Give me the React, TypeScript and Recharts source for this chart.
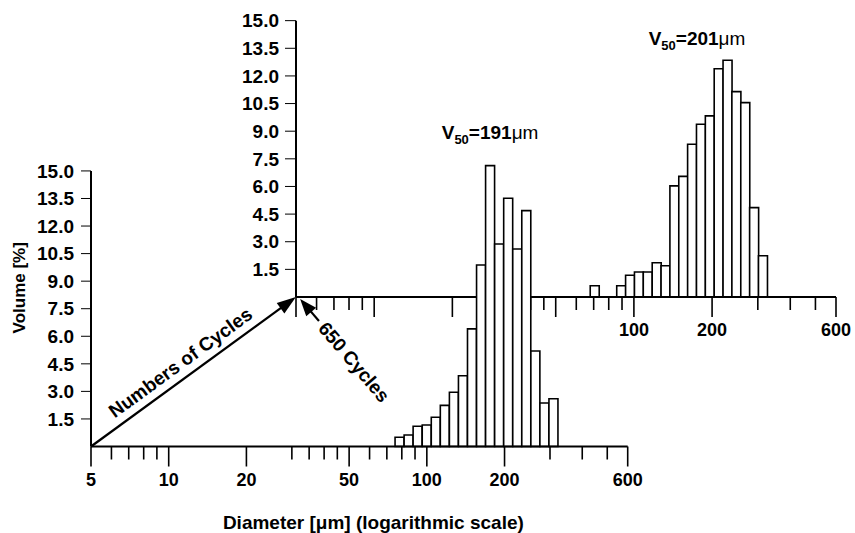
import { ComposedChart, Bar, XAxis, YAxis, ReferenceLine, ReferenceDot } from 'recharts';

const FONT = '"Liberation Sans", Arial, Helvetica, sans-serif';
const W = 855;
const H = 533;

// front histogram: after 650 cycles
const frontDiameters = [78.4, 85.0, 92.1, 99.9, 108.3, 117.4, 127.3, 138.0, 149.6, 162.2, 175.8, 190.6, 206.6, 224.0, 242.8, 263.3, 285.4, 309.4];
const frontVolumes = [0.5, 0.63, 1.1, 1.17, 1.59, 2.24, 2.95, 3.85, 6.4, 9.88, 15.29, 11.02, 13.51, 10.75, 12.84, 5.2, 2.37, 2.6];
const frontMedian = 191;

// back histogram: start
const backDiameters = [70.6, 89.3, 96.6, 104.5, 113.0, 122.3, 132.3, 143.1, 154.8, 167.4, 181.1, 195.9, 211.9, 229.2, 247.9, 268.2, 290.1, 313.8];
const backVolumes = [0.61, 0.61, 1.18, 1.36, 1.36, 1.86, 1.7, 6.03, 6.55, 8.29, 9.38, 9.83, 12.39, 12.85, 11.15, 10.55, 4.85, 2.24];
const backMedian = 201;

const diameterTicks = [5, 6, 7, 8, 9, 10, 20, 30, 35, 40, 45, 50, 60, 70, 80, 90, 100, 200, 300, 400, 500, 600];
const majorTicks = [5, 10, 20, 50, 100, 200, 600];
const frontLabelled = [5, 10, 20, 50, 100, 200, 600];
const backLabelled = [100, 200, 600];
const volumeTicks = [1.5, 3, 4.5, 6, 7.5, 9, 10.5, 12, 13.5, 15];

const frontData = frontDiameters.map((d, i) => ({ d, v: frontVolumes[i] }));
const backData = backDiameters.map((d, i) => ({ d, v: backVolumes[i] }));

const textStyle = { fill: '#000', fontSize: 19, fontWeight: 700, fontFamily: FONT };

const makeDiamTick = (labelled: number[]) => (props: any) => {
  const { x, y, payload } = props;
  const major = majorTicks.includes(payload.value);
  return (
    <g>
      <line x1={x} x2={x} y1={y} y2={y + (major ? 20 : 13)} stroke="#000" strokeWidth={1.6} />
      {labelled.includes(payload.value) && (
        <text x={x} y={y + 39} textAnchor="middle" {...textStyle} fontSize={18}>
          {payload.value}
        </text>
      )}
    </g>
  );
};

const v50Label = (value: number) => (p: any) => (
  <text x={p.cx} y={p.cy} textAnchor="middle" {...textStyle}>
    V<tspan fontSize={13} dy={5}>50</tspan>
    <tspan dy={-5}>={value}</tspan>
    <tspan fontWeight={400}>μm</tspan>
  </text>
);

const headPoints = (x: number, y: number, ux: number, uy: number, len: number, half: number) => {
  const bx = x - ux * len;
  const by = y - uy * len;
  return `${x},${y} ${bx + uy * half},${by - ux * half} ${bx - uy * half},${by + ux * half}`;
};

const cyclesAxisShape = (p: any) => {
  const { x1, y1, x2, y2 } = p;
  const dx = x2 - x1, dy = y2 - y1;
  const len = Math.hypot(dx, dy);
  const ux = dx / len, uy = dy / len;
  const ang = (Math.atan2(dy, dx) * 180) / Math.PI;
  const tx = x1 + dx * 0.48 + uy * 15;
  const ty = y1 + dy * 0.48 - ux * 15;
  return (
    <g>
      <line x1={x1} y1={y1} x2={x2 - ux * 15} y2={y2 - uy * 15} stroke="#000" strokeWidth={2.2} />
      <polygon points={headPoints(x2, y2, ux, uy, 19, 6.5)} fill="#000" />
      <text x={tx} y={ty} transform={`rotate(${ang} ${tx} ${ty})`} textAnchor="middle" dominantBaseline="central" {...textStyle}>
        Numbers of Cycles
      </text>
    </g>
  );
};

const cycles650Shape = (p: any) => {
  const { x1, y1, x2, y2 } = p; // tail -> head
  const dx = x2 - x1, dy = y2 - y1;
  const len = Math.hypot(dx, dy);
  const ux = dx / len, uy = dy / len;
  const ang = (Math.atan2(-uy, -ux) * 180) / Math.PI;
  const tx = x2 - ux * 83;
  const ty = y2 - uy * 83;
  return (
    <g>
      <line x1={x1} y1={y1} x2={x2 - ux * 14} y2={y2 - uy * 14} stroke="#000" strokeWidth={2.2} />
      <polygon points={headPoints(x2, y2, ux, uy, 17, 6.5)} fill="#000" />
      <text x={tx} y={ty} transform={`rotate(${ang} ${tx} ${ty})`} textAnchor="middle" dominantBaseline="central" {...textStyle}>
        650 Cycles
      </text>
    </g>
  );
};

const volumeLabel = (p: any) => {
  const vb = p.viewBox;
  const cx = vb.x - 22;
  const cy = vb.y + vb.height / 2 + 2;
  return (
    <text x={cx} y={cy} transform={`rotate(-90 ${cx} ${cy})`} textAnchor="middle" dominantBaseline="central" {...textStyle} fontSize={17}>
      Volume [%]
    </text>
  );
};

const diameterLabel = (p: any) => {
  const vb = p.viewBox;
  return (
    <text x={vb.x + vb.width / 2 + 14} y={vb.y + 82} textAnchor="middle" {...textStyle}>
      Diameter [μm] (logarithmic scale)
    </text>
  );
};

const layer: React.CSSProperties = { position: 'absolute', left: 0, top: 0 };

export default function App() {
  return (
    <div style={{ position: 'absolute', left: 0, top: 0, width: W, height: H, background: '#fff' }}>
      <div style={layer}>
        <ComposedChart
          width={W}
          height={H}
          data={backData}
          barCategoryGap={0}
          barGap={0}
          margin={{ top: 9.6, right: 19, bottom: 206, left: 246 }}
        >
          <XAxis
            dataKey="d"
            type="number"
            scale="log"
            domain={[5, 600]}
            ticks={diameterTicks}
            interval={0}
            height={30}
            tickSize={0}
            tickMargin={0}
            tickLine={false}
            axisLine={{ stroke: '#000', strokeWidth: 2 }}
            tick={makeDiamTick(backLabelled)}
          />
          <YAxis
            type="number"
            domain={[0, 15.6]}
            ticks={volumeTicks}
            interval={0}
            width={50}
            tickSize={11}
            tickMargin={6}
            stroke="#000"
            axisLine={false}
            tickFormatter={(v: number) => v.toFixed(1)}
            tick={textStyle}
          />
          <ReferenceLine segment={[{ x: 5, y: 0 }, { x: 5, y: 15 }]} stroke="#000" strokeWidth={2} />
          <Bar dataKey="v" fill="#fff" stroke="#000" strokeWidth={1.6} isAnimationActive={false} />
          <ReferenceDot x={175} y={13.68} r={0} ifOverflow="visible" shape={v50Label(backMedian)} />
        </ComposedChart>
      </div>
      <div style={layer}>
        <ComposedChart
          width={W}
          height={H}
          data={frontData}
          barCategoryGap={0}
          barGap={0}
          margin={{ top: 125, right: 227.3, bottom: 56.5, left: 41 }}
        >
          <XAxis
            dataKey="d"
            type="number"
            scale="log"
            domain={[5, 600]}
            ticks={diameterTicks}
            interval={0}
            height={30}
            tickSize={0}
            tickMargin={0}
            tickLine={false}
            axisLine={{ stroke: '#000', strokeWidth: 2 }}
            tick={makeDiamTick(frontLabelled)}
            label={{ content: diameterLabel }}
          />
          <YAxis
            type="number"
            domain={[0, 17.5]}
            ticks={volumeTicks}
            interval={0}
            width={50}
            tickSize={10}
            tickMargin={7}
            stroke="#000"
            axisLine={false}
            tickFormatter={(v: number) => v.toFixed(1)}
            tick={textStyle}
            label={{ content: volumeLabel }}
          />
          <ReferenceLine segment={[{ x: 5, y: 0 }, { x: 5, y: 15 }]} stroke="#000" strokeWidth={2} />
          <ReferenceLine segment={[{ x: 5, y: 0 }, { x: 31.1, y: 8.14 }]} shape={cyclesAxisShape} />
          <ReferenceLine segment={[{ x: 38.2, y: 6.83 }, { x: 32.3, y: 8.03 }]} shape={cycles650Shape} />
          <Bar dataKey="v" fill="#fff" stroke="#000" strokeWidth={1.6} isAnimationActive={false} />
          <ReferenceDot x={175.8} y={16.74} r={0} ifOverflow="visible" shape={v50Label(frontMedian)} />
        </ComposedChart>
      </div>
    </div>
  );
}
